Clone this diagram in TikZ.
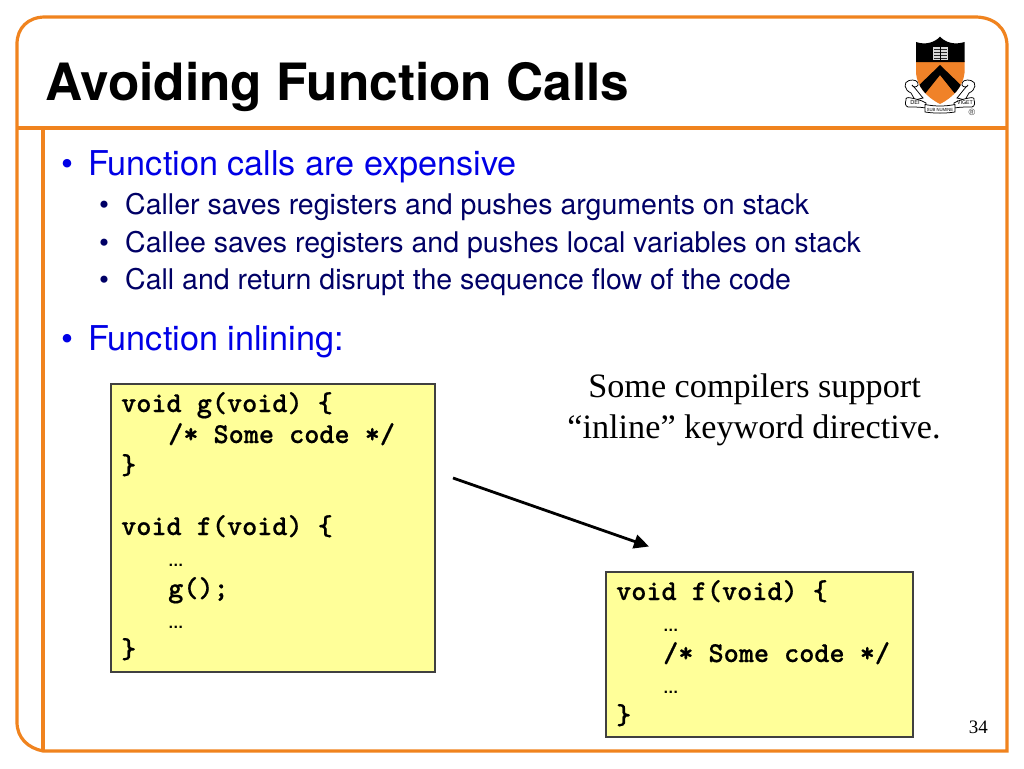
\documentclass[tikz,border=0pt]{standalone}
\usepackage{fontspec}
\usetikzlibrary{arrows.meta}
\setmainfont{TeX Gyre Heros}
\newfontfamily\serifface{Liberation Serif}
\newfontfamily\monoface{Latin Modern Mono Light}[BoldFeatures={FakeBold=0.6}]
\newfontfamily\dotface{Liberation Sans}
\definecolor{frameor}{RGB}{240,131,30}
\definecolor{bluetxt}{RGB}{0,0,230}
\definecolor{navytxt}{RGB}{0,0,102}
\definecolor{codebg}{RGB}{255,255,153}
\definecolor{shieldor}{RGB}{240,130,40}
\newcommand{\fs}[1]{\fontsize{#1}{#1}\selectfont}
\tikzset{
 x=1pt,y=-1pt,
 frameline/.style={draw=frameor,line width=3.2pt},
 codebox/.style={draw=black!75,line width=1.2pt,fill=codebg},
 lvlone/.style={anchor=base west,inner sep=0,text=bluetxt,font=\fs{34.2}},
 lvltwo/.style={anchor=base west,inner sep=0,text=navytxt,font=\fs{28.5}},
 codeline/.style={anchor=base west,inner sep=0,font=\monoface\bfseries\fs{28.8}},
 dotsline/.style={anchor=base west,inner sep=0,font=\dotface\bfseries\fs{15.5}},
 noteline/.style={anchor=base,inner sep=0,font=\serifface\fs{34.2}},
 crestline/.style={draw=black,line width=.75pt,fill=white},
 cresttext/.style={inner sep=0,text=black}
}
\begin{document}
\begin{tikzpicture}
\useasboundingbox (0,0) rectangle (1024,768);
\fill[white] (0,0) rectangle (1024,768);
% frame
\draw[frameline] (1007,751) -- (43,751) .. controls (28,748) and (17,738) .. (17,722) -- (17,44) .. controls (17,28) and (28,17) .. (45,17) -- (975,17) .. controls (994,17) and (1007,28) .. (1007,46) -- cycle;
\draw[frameline] (17,128) -- (1007,128);
\draw[frameline] (43,128) -- (43,751);
% title
\node[anchor=base west,inner sep=0,font=\bfseries\fs{51.4}] (title) at (45,100) {Avoiding Function Calls};
% bullets
\node[lvlone] (b1m) at (61,175) {•};
\node[lvlone] (b1) at (88,175) {Function calls are expensive};
\node[lvltwo] (s1m) at (99,214) {•};
\node[lvltwo] (s1) at (125,214) {Caller saves registers and pushes arguments on stack};
\node[lvltwo] (s2m) at (99,252) {•};
\node[lvltwo] (s2) at (125,252) {Callee saves registers and pushes local variables on stack};
\node[lvltwo] (s3m) at (99,289) {•};
\node[lvltwo] (s3) at (125,289) {Call and return disrupt the sequence flow of the code};
\node[lvlone] (b2m) at (61,350) {•};
\node[lvlone] (b2) at (88,350) {Function inlining:};
% left code
\path[codebox] (111,384) rectangle (435,672);
\coordinate (arrowfrom) at (453,478);
\coordinate (arrowto) at (649,546.5);
\node[codeline] (l1) at (121,412) {void g(void) \{};
\node[codeline] (l2) at (168,443) {/* Some code */};
\node[codeline] (l3) at (121,474) {\}};
\node[codeline] (l4) at (121,535) {void f(void) \{};
\node[dotsline] (l5) at (168,566) {…};
\node[codeline] (l6) at (168,597) {g();};
\node[dotsline] (l7) at (168,628) {…};
\node[codeline] (l8) at (121,658) {\}};
% right code
\path[codebox] (606,572) rectangle (913,737);
\node[codeline] (r1) at (616,600) {void f(void) \{};
\node[dotsline] (r2) at (663,631) {…};
\node[codeline] (r3) at (663,662) {/* Some code */};
\node[dotsline] (r4) at (663,693) {…};
\node[codeline] (r5) at (616,724) {\}};
% note
\node[noteline] (n1) at (754.5,397) {Some compilers support};
\node[noteline] (n2) at (754,438) {“inline” keyword directive.};
% arrow
\draw[line width=2.8pt,-{Triangle[length=15pt,width=14pt]}] (arrowfrom) -- (arrowto);
% page number
\node[anchor=base east,inner sep=0,font=\serifface\fs{19}] (pg) at (988,733) {34};
% crest: scrolls
\draw[crestline] (911,93) .. controls (904,90) and (903,82) .. (909,80.5) .. controls (914,79) and (919,81) .. (918,85) .. controls (917,88) and (912,87) .. (912,85) .. controls (916,89) and (918,92) .. (923,98) -- (915,100) -- cycle;
\draw[crestline] (969,93) .. controls (976,90) and (977,82) .. (971,80.5) .. controls (966,79) and (961,81) .. (962,85) .. controls (963,88) and (968,87) .. (968,85) .. controls (964,89) and (962,92) .. (957,98) -- (965,100) -- cycle;
\draw[crestline] (906,100) .. controls (905,98) and (908,97) .. (911,98) .. controls (916,99) and (921,100) .. (926,103) -- (926,108) .. controls (920,107) and (914,107) .. (908,107) .. controls (905,106) and (905,103) .. (906,100) -- cycle;
\draw[crestline] (974,100) .. controls (975,98) and (972,97) .. (969,98) .. controls (964,99) and (959,100) .. (954,103) -- (954,108) .. controls (960,107) and (966,107) .. (972,107) .. controls (975,106) and (975,103) .. (974,100) -- cycle;
\draw[crestline] (925,104.5) .. controls (935,106.5) and (945,106.5) .. (955,104.5) -- (955,112) .. controls (945,113.5) and (935,113.5) .. (925,112) -- cycle;
\node[cresttext,font=\fs{5.6}] (dei) at (915,102.8) {DEI};
\node[cresttext,font=\fs{4.2}] (sub) at (940,109.5) {SUB NUMINE};
\node[cresttext,font=\fs{5.2}] (viget) at (965,102.8) {VIGET};
\node[inner sep=0,font=\dotface\fs{9},text=black!80] (reg) at (972,112.5) {®};
% crest: shield
\begin{scope}
\clip (916,61) -- (964.5,61) -- (964.5,73) .. controls (963,86) and (954,97) .. (940,104) .. controls (926,97) and (917,86) .. (916,73) -- cycle;
\fill[shieldor] (910,58) rectangle (970,106);
\fill[black] (940,65) -- (968,92) -- (960,100) -- (940,75) -- (920,100) -- (912,92) -- cycle;
\end{scope}
\fill[black] (916,42) .. controls (925,45) and (934,43) .. (940,36.7) .. controls (946,43) and (955,45) .. (964.5,42) -- (964.5,62) -- (916,62) -- cycle;
\fill[white!85!black] (932.5,47) rectangle (948,60);
\foreach \yy in {49,52,55,58} \fill[black!85] (934,\yy) rectangle (946.5,\yy+0.9);
\fill[black] (939.8,46) rectangle (940.8,61);
\end{tikzpicture}
\end{document}
